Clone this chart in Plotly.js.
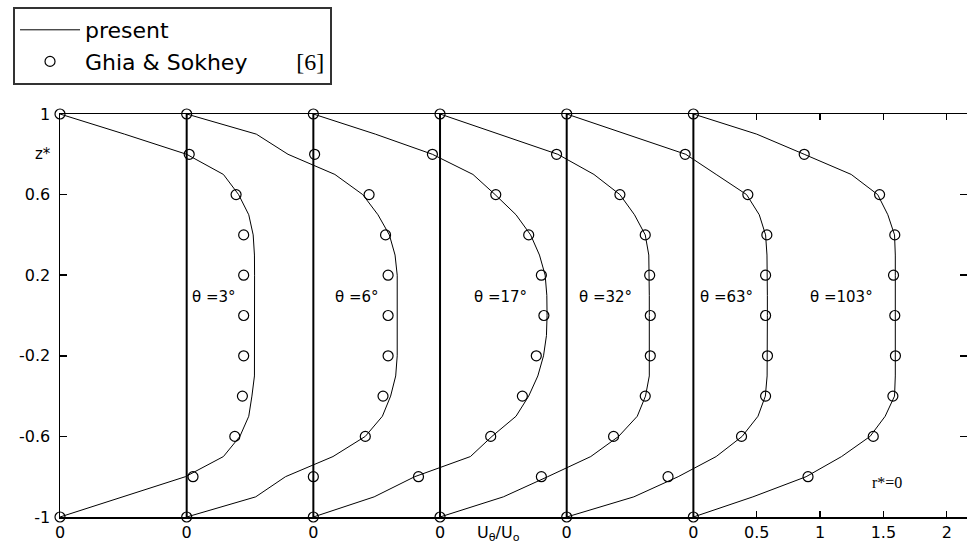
<!DOCTYPE html>
<html>
<head>
<meta charset="utf-8">
<script src="https://cdn.plot.ly/plotly-3.0.1.min.js"></script>
<style>
  html, body { margin: 0; padding: 0; background: #fff; }
  #chart { width: 967px; height: 551px; }
</style>
</head>
<body>
<div id="chart"></div>
<script>
// z* grid of the computed ("present") profiles
const zLine = [1, 0.9, 0.8, 0.7, 0.6, 0.5, 0.4, 0.3, 0.2, 0.1, 0, -0.1, -0.2, -0.3, -0.4, -0.5, -0.6, -0.7, -0.8, -0.9, -1];

// U_theta/U_o of the present solution, one array per theta station
const present3 = [0, 0.51, 1.00, 1.29, 1.41, 1.49, 1.525, 1.535, 1.536, 1.536, 1.536, 1.536, 1.536, 1.535, 1.515, 1.49, 1.42, 1.29, 0.99, 0.49, 0];
const present6 = [0, 0.55, 0.80, 1.17, 1.39, 1.51, 1.60, 1.645, 1.662, 1.662, 1.662, 1.662, 1.662, 1.65, 1.61, 1.545, 1.41, 1.155, 0.78, 0.545, 0];
const present17 = [0, 0.49, 0.94, 1.26, 1.435, 1.60, 1.715, 1.785, 1.83, 1.843, 1.845, 1.84, 1.817, 1.772, 1.70, 1.60, 1.41, 1.24, 0.80, 0.48, 0];
const present32 = [0, 0.47, 0.93, 1.215, 1.42, 1.535, 1.62, 1.648, 1.652, 1.652, 1.652, 1.652, 1.652, 1.652, 1.622, 1.557, 1.41, 1.19, 0.85, 0.50, 0];
const present63 = [0, 0.47, 0.94, 1.18, 1.42, 1.52, 1.57, 1.581, 1.584, 1.584, 1.584, 1.584, 1.584, 1.582, 1.568, 1.51, 1.385, 1.18, 0.88, 0.53, 0];
const present103 = [0, 0.50, 0.875, 1.246, 1.455, 1.535, 1.588, 1.594, 1.594, 1.594, 1.594, 1.594, 1.594, 1.594, 1.588, 1.514, 1.395, 1.17, 0.89, 0.47, 0];

// z* of the Ghia & Sokhey points
const zRef = [1, 0.8, 0.6, 0.4, 0.2, 0, -0.2, -0.4, -0.6, -0.8, -1];
const ghia3 = [0, 1.02, 1.39, 1.45, 1.45, 1.45, 1.45, 1.44, 1.38, 1.05, 0];
const ghia6 = [0, 1.01, 1.44, 1.57, 1.59, 1.59, 1.59, 1.55, 1.41, 1.00, 0];
const ghia17 = [0, 0.94, 1.44, 1.70, 1.80, 1.82, 1.76, 1.65, 1.40, 0.83, 0];
const ghia32 = [0, 0.92, 1.42, 1.62, 1.655, 1.66, 1.66, 1.62, 1.37, 0.80, 0];
const ghia63 = [0, 0.935, 1.43, 1.58, 1.57, 1.57, 1.585, 1.57, 1.38, 0.80, 0];
const ghia103 = [0, 0.875, 1.47, 1.59, 1.58, 1.59, 1.595, 1.575, 1.42, 0.905, 0];

const thetaLabels = ['θ =3°', 'θ =6°', 'θ =17°', 'θ =32°', 'θ =63°', 'θ =103°'];
// each station is shifted one unit to the right of the previous one
const stationShift = [0, 1, 2, 3, 4, 5];

const xTickVals = [0, 1, 2, 3, 4, 5, 5.5, 6, 6.5, 7];
const xTickText = ['0', '0', '0', '0', '0', '0', '0.5', '1', '1.5', '2'];
const yTickVals = [-1, -0.6, -0.2, 0.2, 0.6, 1];
const yTickText = ['-1', '-0.6', '-0.2', '0.2', '0.6', '1'];

const presentSets = [present3, present6, present17, present32, present63, present103];
const ghiaSets = [ghia3, ghia6, ghia17, ghia32, ghia63, ghia103];

const traces = [];

// zero line of every shifted station
stationShift.slice(1).forEach((s) => {
  traces.push({
    x: [s, s], y: [-1, 1],
    type: 'scatter', mode: 'lines',
    line: { color: '#000', width: 2 },
    showlegend: false, hoverinfo: 'skip',
  });
});

presentSets.forEach((u, i) => {
  traces.push({
    x: u.map(v => v + stationShift[i]),
    y: zLine,
    type: 'scatter', mode: 'lines',
    name: 'present',
    legendgroup: 'present',
    showlegend: i === 0,
    line: { color: '#000', width: 1 },
    cliponaxis: false,
  });
});

ghiaSets.forEach((u, i) => {
  traces.push({
    x: u.map(v => v + stationShift[i]),
    y: zRef,
    type: 'scatter', mode: 'markers',
    name: 'Ghia & Sokhey\u00a0\u00a0\u00a0\u00a0\u00a0\u00a0\u00a0<span style="font-family:Liberation Serif;font-size:24px">[6]</span>',
    legendgroup: 'ghia',
    showlegend: i === 0,
    marker: { symbol: 'circle-open', size: 10, color: '#000', line: { width: 1.2, color: '#000' } },
    cliponaxis: false,
  });
});

const thetaX = [1.026, 2.155, 3.252, 4.08, 5.035, 5.904];
const annotations = thetaLabels.map((t, i) => ({
  text: t, x: thetaX[i], y: 0.09, xref: 'x', yref: 'y',
  xanchor: 'left', yanchor: 'middle', showarrow: false,
  font: { family: 'DejaVu Sans', size: 15, color: '#000' },
}));
annotations.push({
  text: 'z*', x: -0.019, y: 0.8, xref: 'paper', yref: 'y',
  xanchor: 'center', yanchor: 'middle', showarrow: false,
  font: { family: 'DejaVu Sans', size: 15, color: '#000' },
});
annotations.push({
  text: 'r*=0', x: 6.525, y: -0.83, xref: 'x', yref: 'y',
  xanchor: 'center', yanchor: 'middle', showarrow: false,
  font: { family: 'Liberation Serif', size: 16, color: '#000' },
});
annotations.push({
  text: 'U<sub>θ</sub>/U<sub>o</sub>', x: 0.484, y: -0.04, xref: 'paper', yref: 'paper',
  xanchor: 'center', yanchor: 'middle', showarrow: false,
  font: { family: 'DejaVu Sans', size: 16, color: '#000' },
});

const axisCommon = {
  showgrid: false, zeroline: false,
  showline: true, linecolor: '#000', linewidth: 1.5,
  mirror: 'ticks', ticks: 'inside', tickcolor: '#000', tickwidth: 1.5,
  tickfont: { family: 'DejaVu Sans', size: 16, color: '#000' },
  fixedrange: true,
};

Plotly.newPlot('chart', traces, {
  width: 967, height: 551,
  margin: { l: 60, r: 0, t: 114, b: 34 },
  paper_bgcolor: '#fff', plot_bgcolor: '#fff',
  xaxis: Object.assign({}, axisCommon, {
    range: [0, 7.16], tickmode: 'array', tickvals: xTickVals, ticktext: xTickText, ticklen: 6,
  }),
  yaxis: Object.assign({}, axisCommon, {
    range: [-1, 1], tickmode: 'array', tickvals: yTickVals, ticktext: yTickText, ticklen: 7,
    ticklabelstandoff: 5,
  }),
  showlegend: true,
  legend: {
    x: -0.0518, y: 1.2655, xanchor: 'left', yanchor: 'top',
    bgcolor: '#fff', bordercolor: '#333', borderwidth: 2,
    font: { family: 'DejaVu Sans', size: 22, color: '#000' },
    itemwidth: 60, tracegroupgap: 0,
  },
  annotations: annotations,
}, { displayModeBar: false, staticPlot: true });
</script>
</body>
</html>
